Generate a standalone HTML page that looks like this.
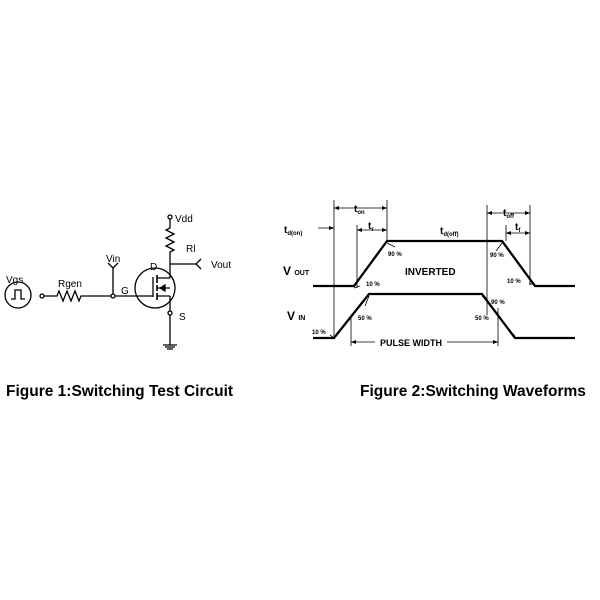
<!DOCTYPE html>
<html><head><style>
body{margin:0;background:#fff;width:600px;height:600px;overflow:hidden}
svg{position:absolute;left:0;top:0}
text{font-family:"Liberation Sans",Arial,sans-serif}
</style></head><body>
<svg width="600" height="600" viewBox="0 0 600 600">
<g stroke="#000" fill="none" stroke-width="1.3">
<circle cx="18" cy="295" r="13"/>
<path d="M11 299 H15 V290 H21 V299 H25"/>
<circle cx="42" cy="296" r="2" fill="#fff"/>
<path d="M44 296 H57 l2 -5 l4 10 l4 -10 l4 10 l4 -10 l4 10 l2 -5 H111"/>
<circle cx="113" cy="296" r="2" fill="#fff"/>
<path d="M115 296 H153 M153 277 V297 M113 294 V268 M113 268 l-5 -5 M113 268 l5 -5"/>
<circle cx="155" cy="288" r="20"/>
<path d="M157 275 V283 M157 285 V291 M157 293 V300" stroke-width="1.6"/>
<path d="M157 278 H170 M157 296 H170 M157 288 H170 M170 278 V264 M170 296 V311"/>
<path d="M160 288 l5 -3 v6 z" fill="#000"/>
<circle cx="170" cy="313" r="2" fill="#fff"/>
<path d="M170 315 V345 M163 345 H177 M165 347 H175 M167 349 H173"/>
<circle cx="170" cy="217" r="2" fill="#fff"/>
<path d="M170 219 V228 l-4 2 l8 4 l-8 4 l8 4 l-8 4 l8 4 l-4 2 V264 M170 264 H196 l5 -5 M196 264 l5 5"/>
</g>
<g font-size="10" fill="#000">
<text x="6" y="283">Vgs</text>
<text x="58" y="287">Rgen</text>
<text x="106" y="262">Vin</text>
<text x="121" y="294">G</text>
<text x="150" y="270">D</text>
<text x="175" y="222">Vdd</text>
<text x="186" y="252">Rl</text>
<text x="211" y="268">Vout</text>
<text x="179" y="320">S</text>
</g>
<g stroke="#000" fill="none" stroke-width="2.3">
<path d="M313 286 H354 L387 241 H502 L535 286 H575"/>
<path d="M313 338 H334 L369 294 H482 L515 338 H575"/>
</g>
<g stroke="#000" fill="none" stroke-width="0.8">
<path d="M334 200 V338 M357 225 V288 M387 200 V241 M487 205 V315 M506 225 V241 M530 205 V285 M351 315 V346 M498 308 V346"/>
<path d="M334 208 H387 M357 230 H387 M318 228 H334 M487 213 H530 M506 233 H530 M351 342 H375 M447 342 H498"/>
<path d="M387 243 l8 4 M354 288 l6 -2 M502 243 l-6 8 M535 284 l-6 0 M482 296 l6 6 M515 336 l-6 -6 M369 296 l-4 10 M334 338 l-4 -3"/>
</g>
<g fill="#000">
<path d="M334 208 l5 -2 v4z M387 208 l-5 -2 v4z M357 230 l5 -2 v4z M387 230 l-5 -2 v4z M334 228 l-5 -2 v4z M487 213 l5 -2 v4z M530 213 l-5 -2 v4z M506 233 l5 -2 v4z M530 233 l-5 -2 v4z M351 342 l5 -2 v4z M498 342 l-5 -2 v4z"/>
</g>
<g fill="#000" font-weight="bold">
<text x="284" y="233" font-size="10">t<tspan font-size="6" dy="2">d(on)</tspan></text>
<text x="354" y="212" font-size="10">t<tspan font-size="6" dy="2">on</tspan></text>
<text x="368" y="229" font-size="10">t<tspan font-size="6" dy="2">r</tspan></text>
<text x="440" y="234" font-size="10">t<tspan font-size="6" dy="2">d(off)</tspan></text>
<text x="503" y="216" font-size="10">t<tspan font-size="6" dy="2">off</tspan></text>
<text x="515" y="230" font-size="10">t<tspan font-size="6" dy="2">f</tspan></text>
<text x="283" y="275" font-size="12">V <tspan font-size="7">OUT</tspan></text>
<text x="287" y="320" font-size="12">V <tspan font-size="7">IN</tspan></text>
<text x="405" y="275" font-size="10">INVERTED</text>
<text x="380" y="346" font-size="9">PULSE WIDTH</text>
<g font-size="6">
<text x="388" y="256">90 %</text>
<text x="366" y="286">10 %</text>
<text x="490" y="257">90 %</text>
<text x="507" y="283">10 %</text>
<text x="491" y="304">90 %</text>
<text x="358" y="320">50 %</text>
<text x="475" y="320">50 %</text>
<text x="312" y="334">10 %</text>
</g>
<text x="6" y="396" font-size="15.5">Figure 1:Switching Test Circuit</text>
<text x="360" y="396" font-size="15.5">Figure 2:Switching Waveforms</text>
</g>
</svg>
</body></html>
